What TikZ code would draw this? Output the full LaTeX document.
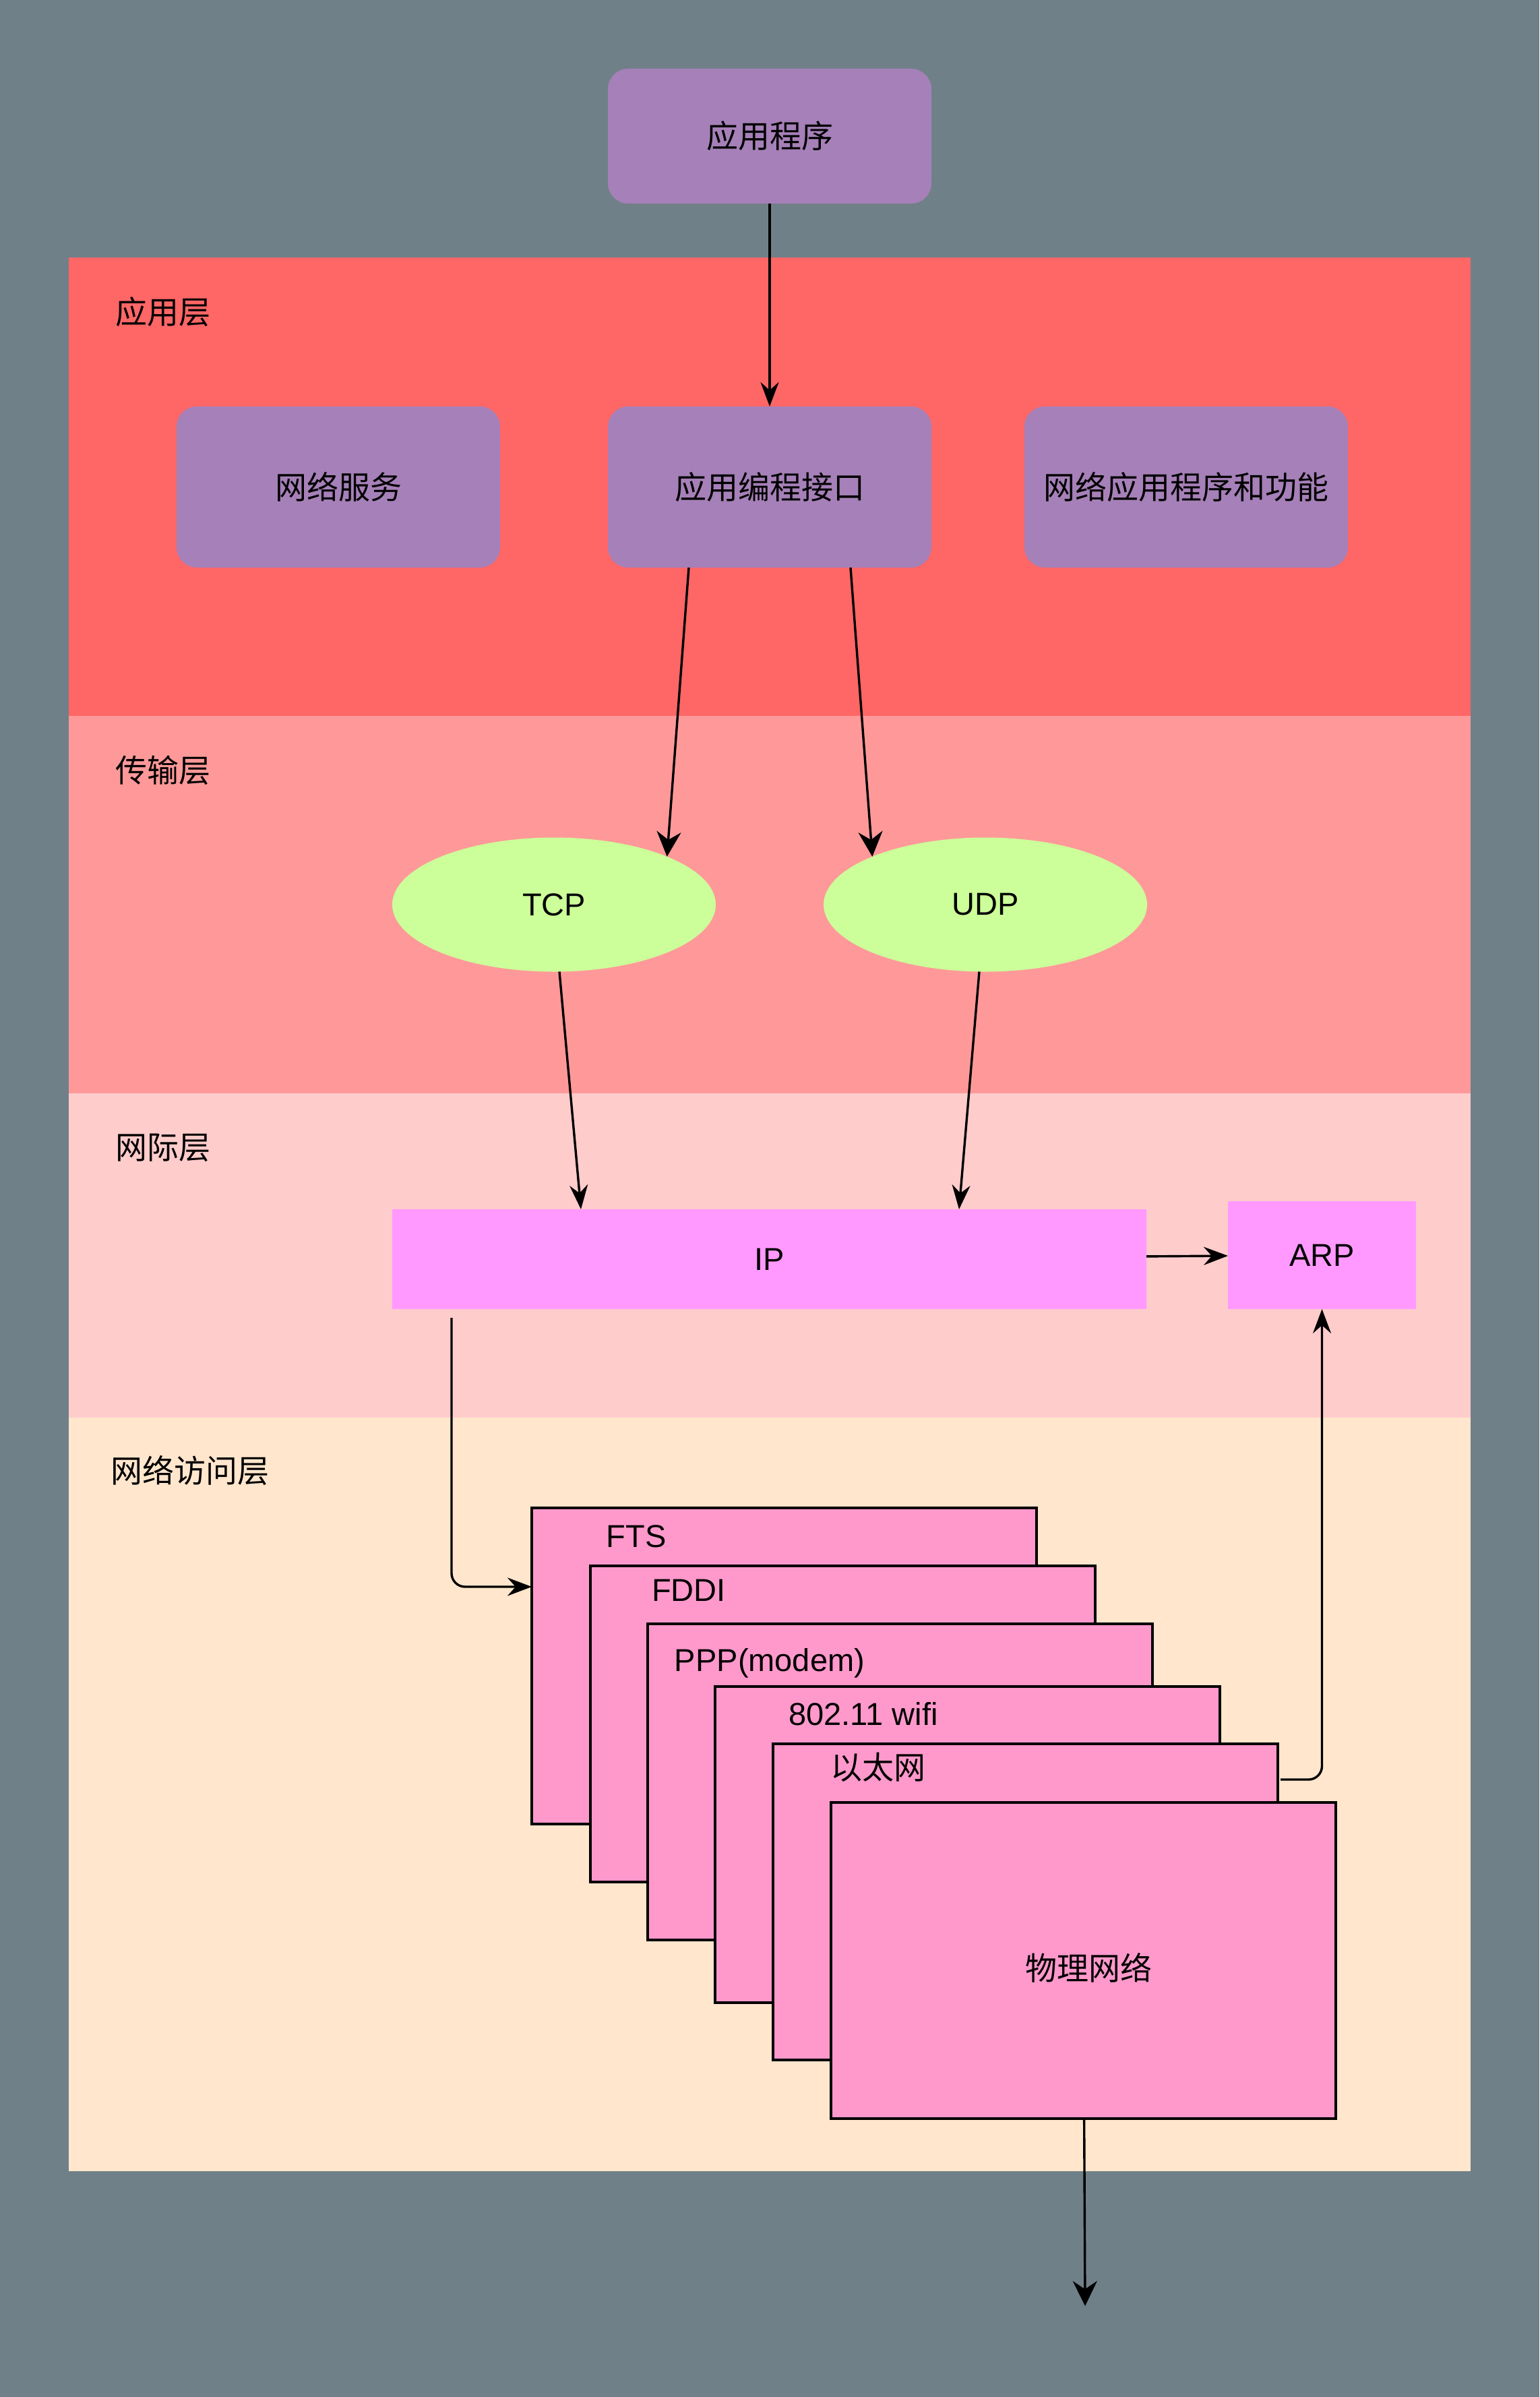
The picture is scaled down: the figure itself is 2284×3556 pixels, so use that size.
\documentclass[tikz,border=0pt]{standalone}
\usepackage{fontspec}
\setmainfont{Liberation Sans}
\newfontfamily\cjk{Noto Sans CJK SC}
\usetikzlibrary{arrows.meta,positioning,shapes.geometric}
\definecolor{bgcol}{RGB}{112,128,136}
\definecolor{appcol}{HTML}{FF6666}
\definecolor{tracol}{HTML}{FF9999}
\definecolor{netcol}{HTML}{FFCCCC}
\definecolor{acccol}{HTML}{FFE6CC}
\definecolor{procfill}{HTML}{A680B8}
\definecolor{protofill}{HTML}{CCFF99}
\definecolor{ipfill}{HTML}{FF99FF}
\definecolor{linkfill}{HTML}{FF99CC}
\tikzstyle{layer} = [rectangle,
                    minimum width=2080pt,
                    inner sep=0pt,
                    outer sep=0pt]
\tikzstyle{tag} = [anchor=west, inner sep=0pt]
\tikzstyle{proc} = [rectangle,
                   rounded corners=30pt,
                   fill=procfill,
                   minimum width=480pt,
                   minimum height=239pt,
                   inner sep=0pt,
                   outer sep=0pt]
\tikzstyle{proto} = [ellipse,
                    fill=protofill,
                    minimum width=480pt,
                    minimum height=199pt,
                    inner sep=0pt,
                    outer sep=0pt]
\tikzstyle{ipbox} = [rectangle,
                    fill=ipfill,
                    minimum height=148pt,
                    inner sep=0pt,
                    outer sep=0pt]
\tikzstyle{link} = [rectangle,
                   draw=black,
                   line width=4.2pt,
                   fill=linkfill,
                   minimum width=749pt,
                   minimum height=469pt,
                   inner sep=0pt,
                   outer sep=0pt]
\tikzstyle{bighead} = [-{Stealth[length=37pt,width=36pt,inset=12pt]}]
\tikzstyle{elbowvh} = [rounded corners=20pt, to path={|- (\tikztotarget)}]
\tikzstyle{elbowhv} = [rounded corners=20pt, to path={-| (\tikztotarget)}]
\tikzstyle{diagram} = [x=1pt, y=-1pt,
                      >={Stealth[length=36pt,width=27pt,inset=12pt]},
                      line width=3.4pt,
                      font=\fontsize{47pt}{56pt}\selectfont]

\begin{document}
\begin{tikzpicture}[diagram]
    \fill[bgcol] (0,0) rectangle (2284,3556);
    % layers
    \node (0) [layer, fill=appcol, minimum height=680pt, anchor=north west] at (102,382) {};
    \node (1) [layer, fill=tracol, minimum height=560pt, below=0pt of 0] {};
    \node (2) [layer, fill=netcol, minimum height=481pt, below=0pt of 1] {};
    \node (3) [layer, fill=acccol, minimum height=1118pt, below=0pt of 2] {};
    \node (4) [tag] at (170,463) {\cjk 应用层};
    \node (5) [tag] at (170,1143) {\cjk 传输层};
    \node (6) [tag] at (170,1703) {\cjk 网际层};
    \node (7) [tag] at (163,2182) {\cjk 网络访问层};
    % application
    \node (8) [proc, minimum height=200pt] at (1142,202) {\cjk 应用程序};
    \node (10) [proc, below=301pt of 8] {\cjk 应用编程接口};
    \node (9) [proc, left=160pt of 10] {\cjk 网络服务};
    \node (11) [proc, right=138pt of 10] {\cjk 网络应用程序和功能};
    % transport and internet
    \node (12) [proto] at (822,1342) {TCP};
    \node (13) [proto, right=160pt of 12] {UDP};
    \node (14) [ipbox, minimum width=1119pt] at (1141.5,1868) {IP};
    \node (15) [ipbox, minimum width=279pt, minimum height=160pt, right=121pt of 14, yshift=6pt] {ARP};
    % network access
    \node (16) [link, anchor=north west] at (789,2237) {};
    \node (22) at ([xshift=155pt,yshift=-42pt]16.north west) {FTS};
    \node (17) [link, below right=86pt and 87pt of 16.north west] {};
    \node (23) at ([xshift=146pt,yshift=-36pt]17.north west) {FDDI};
    \node (18) [link, below right=86pt and 85pt of 17.north west] {};
    \node (24) at ([xshift=181pt,yshift=-58pt]18.north west) {PPP(modem)};
    \node (19) [link, below right=93pt and 100pt of 18.north west] {};
    \node (25) at ([xshift=220pt,yshift=-41pt]19.north west) {802.11 wifi};
    \node (20) [link, below right=85pt and 86pt of 19.north west] {};
    \node (26) at ([xshift=156pt,yshift=-35pt]20.north west) {\cjk 以太网};
    \node (21) [link, below right=87pt and 86pt of 20.north west] {};
    \node (28) at ([xshift=8pt,yshift=-11pt]21.center) {\cjk 物理网络};
    \coordinate (27) at (1610,3421);
    \path[->]
      (8) edge (10)
      ([xshift=-120pt]10.south) edge [bighead] (12.23)
      ([xshift=120pt]10.south) edge [bighead] (13.157)
      ([xshift=8pt]12.south) edge ([xshift=280pt]14.north west)
      ([xshift=-9pt]13.south) edge ([xshift=841pt]14.north west)
      (14) edge (15)
      ([xshift=88pt,yshift=-13pt]14.south west) edge [elbowvh] ([yshift=-117pt]16.north west)
      ([xshift=4pt,yshift=-53pt]20.north east) edge [elbowhv] (15.south)
      (21) edge [bighead] (27);
\end{tikzpicture}
\end{document}
